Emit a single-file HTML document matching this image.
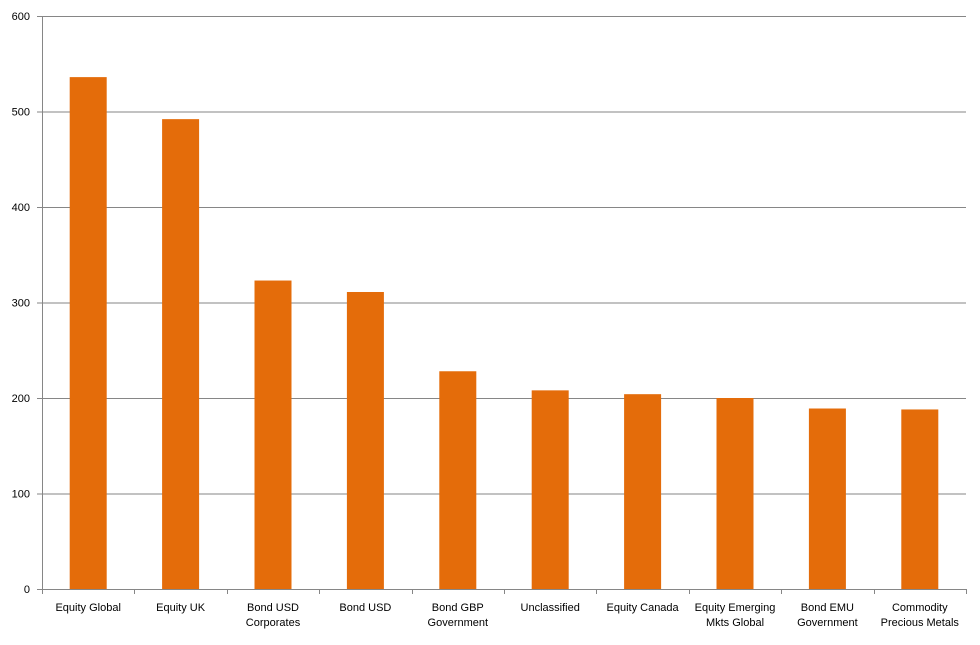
<!DOCTYPE html>
<html><head><meta charset="utf-8"><style>
body{margin:0;background:#fff;}
svg text{font-family:"Liberation Sans",sans-serif;font-size:11px;fill:#000;}
</style></head><body>
<svg id="chart" width="980" height="640" xmlns="http://www.w3.org/2000/svg"></svg>
<script>
const categories = [["Equity Global"],["Equity UK"],["Bond USD","Corporates"],["Bond USD"],["Bond GBP","Government"],["Unclassified"],["Equity Canada"],["Equity Emerging","Mkts Global"],["Bond EMU","Government"],["Commodity","Precious Metals"]];
const values = [536, 492, 323, 311, 228, 208, 204, 200, 189, 188];
const yTicks = [0,100,200,300,400,500,600];
const svg = document.getElementById('chart');
const NS = 'http://www.w3.org/2000/svg';
const L=42,R=966,T=16,B=589,maxV=600;
const y = v => B - (v/maxV)*(B-T);
const band = (R-L)/categories.length;
const x = i => L + band*i;
function mk(tag, attrs, parent){const e=document.createElementNS(NS,tag);for(const k in attrs)e.setAttribute(k,attrs[k]);(parent||svg).appendChild(e);return e;}
yTicks.forEach(t=>{
  const g=mk('line',{x1:L-5,x2:R,y1:y(t)+0.5,y2:y(t)+0.5,stroke:t===0?'#868686':'#868686','stroke-width':1});
  
  
  const tx=mk('text',{x:L-12,y:y(t)+4,'text-anchor':'end'});
  tx.textContent=t;
  
  
});
const ax=mk('line',{x1:L+0.5,x2:L+0.5,y1:T,y2:B,stroke:'#868686'});


for(let i=0;i<=categories.length;i++){
  const tk=mk('line',{x1:Math.round(x(i))+0.5,x2:Math.round(x(i))+0.5,y1:B,y2:B+5,stroke:'#868686'});
  
  
}
const bw=37;
values.forEach((v,i)=>{
  const cx=x(i)+band/2;
  const r=mk('rect',{x:cx-bw/2,y:y(v),width:bw,height:B-y(v),fill:'#E46C0A'});
  
  
  const t=mk('text',{x:cx,y:B+22,'text-anchor':'middle'});
  
  
  categories[i].forEach((ln,j)=>{const s=mk('tspan',{x:cx,dy:j?15:0},t);s.textContent=ln;});
});
</script>
</body></html>
